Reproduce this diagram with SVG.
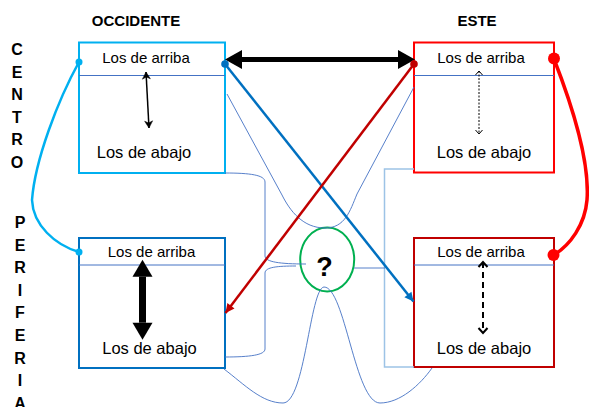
<svg xmlns="http://www.w3.org/2000/svg" width="589" height="407" viewBox="0 0 589 407">
<style>
.box{fill:#fff;stroke-width:2}
.div{stroke:#4472C4;stroke-width:1}
.t{font-family:"Liberation Sans",Arial,sans-serif;fill:#000;text-anchor:middle}
.up{font-size:15px}
.dn{font-size:16.5px}
.hd{font-family:"Liberation Sans",Arial,sans-serif;font-weight:bold;font-size:15px;text-anchor:middle}
.vt{font-family:"Liberation Sans",Arial,sans-serif;font-weight:bold;font-size:16px;text-anchor:middle}
.thin{fill:none;stroke:#4472C4;stroke-width:0.9}
.pale{fill:none;stroke:#9DC3E6;stroke-width:1.5}
</style>
<defs>
<marker id="bigHead" markerUnits="userSpaceOnUse" markerWidth="20" markerHeight="22" refX="0" refY="0" orient="auto-start-reverse" overflow="visible"><path d="M0,-9.5 L17,0 L0,9.5 z" fill="#000"/></marker>
<marker id="bigHead2" markerUnits="userSpaceOnUse" markerWidth="20" markerHeight="22" refX="0" refY="0" orient="auto-start-reverse" overflow="visible"><path d="M0,-10 L17,0 L0,10 z" fill="#000"/></marker>
<marker id="triBlue" markerUnits="userSpaceOnUse" markerWidth="12" markerHeight="12" refX="0" refY="0" orient="auto" overflow="visible"><path d="M-9,-4.5 L0,0 L-9,4.5 z" fill="#0070C0"/></marker>
<marker id="triRed" markerUnits="userSpaceOnUse" markerWidth="12" markerHeight="12" refX="0" refY="0" orient="auto" overflow="visible"><path d="M-9,-4.5 L0,0 L-9,4.5 z" fill="#C00000"/></marker>
<marker id="stealth" markerUnits="userSpaceOnUse" markerWidth="10" markerHeight="10" refX="0" refY="0" orient="auto-start-reverse" overflow="visible"><path d="M-7,-4 L0,0 L-7,4 L-5,0 z" fill="#000" stroke="#000" stroke-width="0.5"/></marker>
<marker id="vThin" markerUnits="userSpaceOnUse" markerWidth="10" markerHeight="10" refX="0" refY="0" orient="auto-start-reverse" overflow="visible"><path d="M-4,-3.5 L0,0 L-4,3.5" fill="none" stroke="#000" stroke-width="1"/></marker>
<marker id="vThick" markerUnits="userSpaceOnUse" markerWidth="10" markerHeight="10" refX="0" refY="0" orient="auto-start-reverse" overflow="visible"><path d="M-5,-4.5 L0,0 L-5,4.5" fill="none" stroke="#000" stroke-width="2"/></marker>
</defs>
<rect width="589" height="407" fill="#fff"/>

<text class="hd" x="136" y="26">OCCIDENTE</text>
<text class="hd" x="477" y="26">ESTE</text>
<text class="vt"><tspan x="17" y="55">C</tspan><tspan x="17" dy="22.5">E</tspan><tspan x="17" dy="22.5">N</tspan><tspan x="17" dy="22.5">T</tspan><tspan x="17" dy="22.5">R</tspan><tspan x="17" dy="22.5">O</tspan></text>
<text class="vt"><tspan x="20" y="228">P</tspan><tspan x="20" dy="22.6">E</tspan><tspan x="20" dy="22.6">R</tspan><tspan x="20" dy="22.6">I</tspan><tspan x="20" dy="22.6">F</tspan><tspan x="20" dy="22.6">E</tspan><tspan x="20" dy="22.6">R</tspan><tspan x="20" dy="22.6">I</tspan><tspan x="20" dy="22.6">A</tspan></text>

<g id="occ-centro">
<rect class="box" x="79" y="42.5" width="146" height="130.5" stroke="#00B0F0"/>
<line class="div" x1="79" y1="75.5" x2="225" y2="75.5"/>
<text class="t up" x="146" y="63">Los de arriba</text>
<text class="t dn" x="144" y="158">Los de abajo</text>
</g>
<g id="este-centro">
<rect class="box" x="414" y="42.5" width="140" height="130" stroke="#FF0000"/>
<line class="div" x1="414" y1="75.5" x2="554" y2="75.5"/>
<text class="t up" x="481" y="63">Los de arriba</text>
<text class="t dn" x="484" y="158">Los de abajo</text>
</g>
<g id="occ-periferia">
<rect class="box" x="79" y="238" width="146" height="130" stroke="#0070C0"/>
<line class="div" x1="79" y1="265" x2="225" y2="265"/>
<text class="t up" x="151.5" y="257">Los de arriba</text>
<text class="t dn" x="149.5" y="354">Los de abajo</text>
</g>
<g id="este-periferia">
<rect class="box" x="414" y="238" width="140" height="129" stroke="#C00000"/>
<line class="div" x1="414" y1="265" x2="554" y2="265"/>
<text class="t up" x="481" y="257">Los de arriba</text>
<text class="t dn" x="484" y="354">Los de abajo</text>
</g>
<g id="pregunta">
<ellipse cx="327.2" cy="259.5" rx="27" ry="32" fill="none" stroke="#00B050" stroke-width="2"/>
<text x="324.5" y="276" font-family="Liberation Sans, Arial, sans-serif" font-weight="bold" font-size="27" text-anchor="middle">?</text>
</g>

<g id="connectors">
<path class="thin" d="M225,173 C250,173 265,175 265,182 L265,256 C265,262 280,264 306,264"/>
<path class="thin" d="M296,266 C278,266 265,267 265,273 L265,349 C265,355 250,357 225,357"/>
<path class="pale" d="M414,169 L384.5,169 L384.5,367 L414,367"/>
<line class="thin" x1="354" y1="268" x2="385" y2="268"/>
<path class="thin" d="M227,94 L282,195 C290,211 303,228 325,228 C345,228 350,211 357,194 L414,87"/>
<path class="thin" d="M224,369 C245,385 262,403 283,403 C305,403 310,288 324,287 C345,287 355,403 380,403 C400,403 420,385 432,368"/>

<path d="M79,62 C58,100 35,160 32,200 C33,225 55,245 79,252" fill="none" stroke="#00B0F0" stroke-width="2.5"/>
<circle cx="79" cy="62" r="3.5" fill="#00B0F0"/>
<circle cx="79" cy="252" r="3.5" fill="#00B0F0"/>

<path d="M554,59 C570,100 590,160 587,200 C585,225 570,245 554,255" fill="none" stroke="#FF0000" stroke-width="3.5"/>
<circle cx="554" cy="58.5" r="6" fill="#FF0000"/>
<circle cx="553.5" cy="255" r="6" fill="#FF0000"/>

<line x1="242" y1="59.5" x2="398" y2="59.5" stroke="#000" stroke-width="5" marker-start="url(#bigHead)" marker-end="url(#bigHead)"/>

<line x1="225" y1="64" x2="413.5" y2="301.5" stroke="#0070C0" stroke-width="2.5" marker-end="url(#triBlue)"/>
<circle cx="225" cy="64" r="3.8" fill="#0070C0"/>

<line x1="414" y1="64" x2="225.5" y2="313" stroke="#C00000" stroke-width="2.5" marker-end="url(#triRed)"/>
<circle cx="414" cy="64" r="3.8" fill="#C00000"/>

<line x1="146" y1="72" x2="149" y2="128" stroke="#000" stroke-width="1.5" marker-start="url(#stealth)" marker-end="url(#stealth)"/>
<line x1="479" y1="71" x2="479" y2="134" stroke="#000" stroke-width="1" stroke-dasharray="2,1.5" marker-start="url(#vThin)" marker-end="url(#vThin)"/>
<line x1="142.5" y1="276.7" x2="142.5" y2="322.7" stroke="#000" stroke-width="7" marker-start="url(#bigHead2)" marker-end="url(#bigHead2)"/>
<line x1="483" y1="262" x2="483" y2="333" stroke="#000" stroke-width="2" stroke-dasharray="6,4" marker-start="url(#vThick)" marker-end="url(#vThick)"/>
</g>
</svg>
